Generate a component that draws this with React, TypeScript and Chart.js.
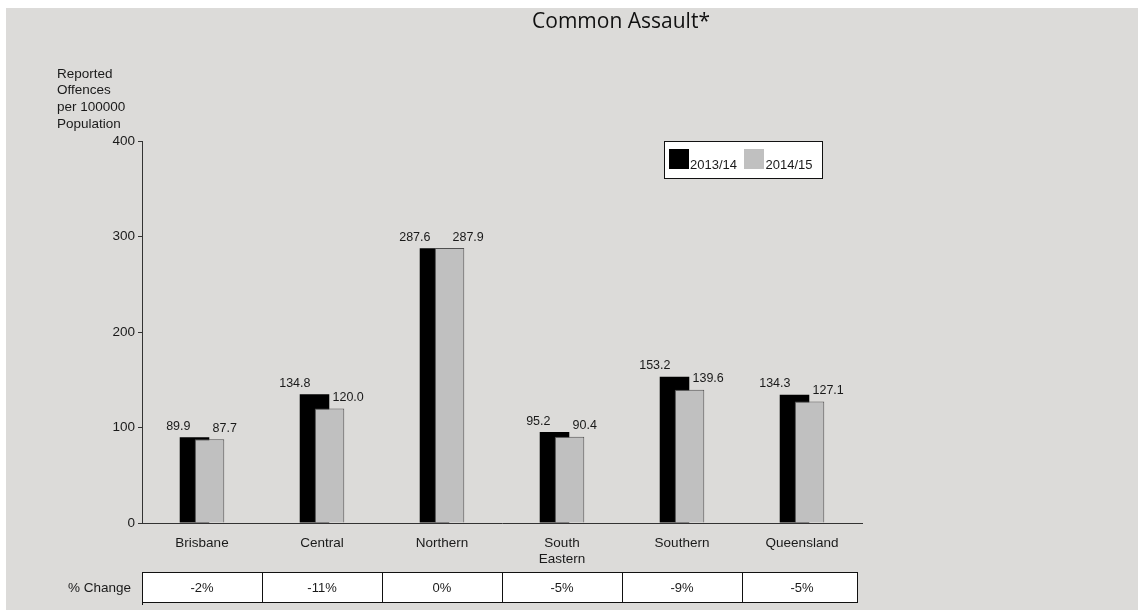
import { useEffect, useRef } from "react";
import { Chart, registerables } from "chart.js";

Chart.register(...registerables);

const chartTitle = "Common Assault*";
const yAxisTitle = ["Reported", "Offences", "per 100000", "Population"];
const categories = ["Brisbane", "Central", "Northern", "South Eastern", "Southern", "Queensland"];
const seriesLabels = ["2013/14", "2014/15"];
const values201314 = [89.9, 134.8, 287.6, 95.2, 153.2, 134.3];
const values201415 = [87.7, 120.0, 287.9, 90.4, 139.6, 127.1];
const percentChange = ["-2%", "-11%", "0%", "-5%", "-9%", "-5%"];
const tableRowLabel = "% Change";
const yMin = 0;
const yMax = 400;
const yStep = 100;

const FONT = "'Liberation Sans', Arial, Helvetica, sans-serif";
const TITLE_FONT = "'Open Sans', 'DejaVu Sans', sans-serif";
const seriesColors = ["#000000", "#c0c0c0"];
const seriesBorders = ["#000000", "#505050"];
const BG = "#dcdbd9";
const TEXT = "#1a1a1a";

const backgroundPlugin = {
  id: "bgPlugin",
  beforeDraw(chart: any) {
    const ctx = chart.ctx;
    ctx.save();
    ctx.fillStyle = "#ffffff";
    ctx.fillRect(0, 0, chart.width, chart.height);
    ctx.fillStyle = BG;
    ctx.fillRect(6, 8, chart.width - 6, chart.height - 8);
    ctx.restore();
  },
};

// draw the first series behind the second (overlapping bars)
const overlapOrderPlugin = {
  id: "overlapOrder",
  beforeDatasetDraw(chart: any, args: any) {
    if (args.index === 0) return false;
    if (args.index === 1 && chart.isDatasetVisible(0)) {
      chart.getDatasetMeta(0).controller.draw();
    }
    return true;
  },
};

const valueLabelPlugin = {
  id: "valueLabels",
  afterDatasetsDraw(chart: any) {
    const ctx = chart.ctx;
    ctx.save();
    ctx.font = `12.5px ${FONT}`;
    ctx.fillStyle = TEXT;
    ctx.textBaseline = "middle";
    chart.data.datasets.forEach((ds: any, di: number) => {
      const meta = chart.getDatasetMeta(di);
      meta.data.forEach((el: any, i: number) => {
        const v = ds.data[i];
        const txt = Number(v).toFixed(1);
        if (di === 0) {
          ctx.textAlign = "right";
          ctx.fillText(txt, el.x - 4, el.y - 11);
        } else {
          ctx.textAlign = "left";
          ctx.fillText(txt, el.x + 3, el.y - 11);
        }
      });
    });
    ctx.restore();
  },
};

const decorPlugin = {
  id: "decor",
  afterDraw(chart: any) {
    const ctx = chart.ctx;
    const area = chart.chartArea;
    const xs = chart.scales.x;
    ctx.save();

    // title
    ctx.font = `21px ${TITLE_FONT}`;
    ctx.fillStyle = "#111";
    ctx.textAlign = "center";
    ctx.textBaseline = "middle";
    ctx.fillText(chartTitle, 621, 22);

    // y axis title
    ctx.font = `13.5px ${FONT}`;
    ctx.fillStyle = TEXT;
    ctx.textAlign = "left";
    yAxisTitle.forEach((line, i) => {
      ctx.fillText(line, 57, 74 + i * 16.7);
    });

    // legend
    const lx = 664.5, ly = 141.5, lw = 158, lh = 37;
    ctx.fillStyle = "#ffffff";
    ctx.fillRect(lx, ly, lw, lh);
    ctx.strokeStyle = "#111";
    ctx.lineWidth = 1;
    ctx.strokeRect(lx, ly, lw, lh);
    ctx.font = `13px ${FONT}`;
    ctx.textBaseline = "alphabetic";
    const items = [
      { sx: 669, tx: 690 },
      { sx: 744, tx: 765.5 },
    ];
    items.forEach((it, i) => {
      ctx.fillStyle = seriesColors[i];
      ctx.fillRect(it.sx, 149, 20, 20);
      ctx.fillStyle = TEXT;
      ctx.textAlign = "left";
      ctx.fillText(seriesLabels[i], it.tx, 168.5);
    });

    // % change table
    const top = 572;
    const bottom = 602;
    const n = categories.length;
    const half = (xs.getPixelForValue(1) - xs.getPixelForValue(0)) / 2;
    const left = area.left;
    const right = area.right - 4;
    ctx.fillStyle = "#ffffff";
    ctx.fillRect(left, top, right - left, bottom - top);
    ctx.strokeStyle = "#111";
    ctx.lineWidth = 1;
    ctx.beginPath();
    ctx.moveTo(left, top + 0.5);
    ctx.lineTo(right, top + 0.5);
    ctx.moveTo(left, bottom + 0.5);
    ctx.lineTo(right, bottom + 0.5);
    ctx.moveTo(left + 0.5, top);
    ctx.lineTo(left + 0.5, bottom + 3);
    ctx.moveTo(right - 0.5, top);
    ctx.lineTo(right - 0.5, bottom);
    for (let i = 0; i < n - 1; i++) {
      const bx = Math.round(xs.getPixelForValue(i) + half) + 0.5;
      ctx.moveTo(bx, top);
      ctx.lineTo(bx, bottom);
    }
    ctx.stroke();
    ctx.font = `13px ${FONT}`;
    ctx.fillStyle = TEXT;
    ctx.textAlign = "center";
    ctx.textBaseline = "middle";
    percentChange.forEach((p, i) => {
      ctx.fillText(p, xs.getPixelForValue(i), 588);
    });
    ctx.textAlign = "right";
    ctx.font = `13.5px ${FONT}`;
    ctx.fillText(tableRowLabel, 131, 588);

    ctx.restore();
  },
};

export default function App() {
  const canvasRef = useRef<HTMLCanvasElement | null>(null);

  useEffect(() => {
    document.body.style.margin = "0";
    document.body.style.background = "#ffffff";
    const canvas = canvasRef.current;
    if (!canvas) return;
    const chart = new Chart(canvas, {
      type: "bar",
      data: {
        labels: categories,
        datasets: [
          {
            label: seriesLabels[0],
            data: values201314,
            backgroundColor: seriesColors[0],
            borderColor: seriesBorders[0],
            borderWidth: 0,
          },
          {
            label: seriesLabels[1],
            data: values201415,
            backgroundColor: seriesColors[1],
            borderColor: seriesBorders[1],
            borderWidth: 1,
          },
        ],
      },
      options: {
        responsive: false,
        animation: false,
        devicePixelRatio: 1,
        layout: { padding: { left: 0, right: 276, top: 141, bottom: 0 } },
        datasets: {
          bar: { categoryPercentage: 0.25, barPercentage: 1.97 },
        },
        plugins: {
          legend: { display: false },
          title: { display: false },
          tooltip: { enabled: false },
        },
        scales: {
          x: {
            offset: true,
            grid: { display: false, drawTicks: false },
            border: { display: true, color: "#333", width: 1 },
            ticks: {
              padding: 12,
              color: TEXT,
              font: { family: FONT, size: 13.5 },
              maxRotation: 0,
              autoSkip: false,
              callback: function (this: any, value: any) {
                const l = String(this.getLabelForValue(value));
                return l.split(" ");
              },
            },
            afterFit(scale: any) {
              scale.height = 87;
            },
          },
          y: {
            min: yMin,
            max: yMax,
            grid: {
              display: true,
              drawOnChartArea: false,
              drawTicks: true,
              tickLength: 4,
              color: "#333",
            },
            border: { display: true, color: "#333", width: 1 },
            ticks: {
              stepSize: yStep,
              padding: 3,
              color: TEXT,
              font: { family: FONT, size: 13.5 },
            },
            afterFit(scale: any) {
              scale.width = 142;
            },
          },
        },
      },
      plugins: [backgroundPlugin, overlapOrderPlugin, valueLabelPlugin, decorPlugin],
    } as any);
    return () => chart.destroy();
  }, []);

  return (
    <canvas
      ref={canvasRef}
      width={1138}
      height={610}
      style={{ display: "block", width: "1138px", height: "610px" }}
    />
  );
}
